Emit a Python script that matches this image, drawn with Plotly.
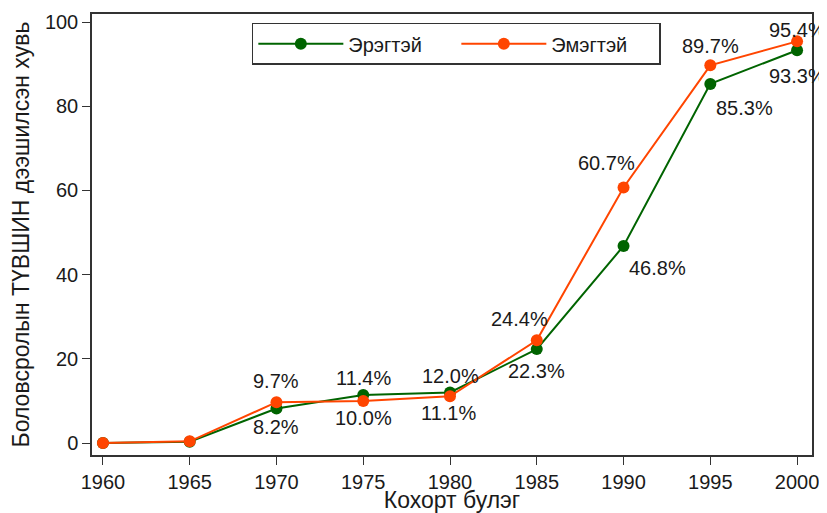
import plotly.graph_objects as go

years = [1960, 1965, 1970, 1975, 1980, 1985, 1990, 1995, 2000]
male = [0.0, 0.3, 8.2, 11.4, 12.0, 22.3, 46.8, 85.3, 93.3]
female = [0.0, 0.4, 9.7, 10.0, 11.1, 24.4, 60.7, 89.7, 95.4]
male_labels = ["", "", "8.2%", "11.4%", "12.0%", "22.3%", "46.8%", "85.3%", "93.3%"]
female_labels = ["", "", "9.7%", "10.0%", "11.1%", "24.4%", "60.7%", "89.7%", "95.4%"]
series_names = ["Эрэгтэй", "Эмэгтэй"]
x_title = "Кохорт булэг"
y_title = "Боловсролын ТҮВШИН дээшилсэн хувь"
y_ticks = [0, 20, 40, 60, 80, 100]

# label offsets (px), style only
male_off = [(0, 0), (0, 0), (0, 19), (0, -17), (0, -16), (0, 22), (34, 22), (34, 24), (0, 26)]
female_off = [(0, 0), (0, 0), (0, -21), (0, 17), (-2, 17), (-17, -21), (-17, -24), (0, -19), (0, -11)]

GREEN = "#006400"
ORANGE = "#FF4500"
FONT = "Liberation Sans, Arial, sans-serif"
TXT = "#1a1a1a"

fig = go.Figure()
fig.add_trace(go.Scatter(x=years, y=male, mode="lines+markers", name=series_names[0],
                         line=dict(color=GREEN, width=2),
                         marker=dict(color=GREEN, size=12)))
fig.add_trace(go.Scatter(x=years, y=female, mode="lines+markers", name=series_names[1],
                         line=dict(color=ORANGE, width=2),
                         marker=dict(color=ORANGE, size=12)))

annots = []
for xs, ys, labs, offs in [(years, male, male_labels, male_off), (years, female, female_labels, female_off)]:
    for xv, yv, lab, (dx, dy) in zip(xs, ys, labs, offs):
        if not lab:
            continue
        annots.append(dict(x=xv, y=yv, text=lab, showarrow=False, xshift=dx, yshift=-dy,
                           font=dict(size=20, color=TXT, family=FONT),
                           xanchor="center", yanchor="middle"))

# page body adds an 8px offset, so the figure is sized to compensate
fig.update_layout(
    width=819, height=505,
    margin=dict(l=84, r=15, t=6, b=58, autoexpand=False),
    paper_bgcolor="white", plot_bgcolor="white",
    font=dict(family=FONT, color=TXT),
    annotations=annots,
    showlegend=True,
    legend=dict(orientation="h", x=0.222, y=0.98, xanchor="left", yanchor="top",
                bordercolor="#333333", borderwidth=1.5, bgcolor="white",
                font=dict(size=20, family=FONT, color=TXT),
                itemwidth=85, entrywidth=103, tracegroupgap=0),
    xaxis=dict(range=[1959.37, 2000.86], tickvals=years, ticks="outside", ticklen=8,
               tickcolor="#333333", showgrid=False, zeroline=False, automargin=False,
               showline=True, linecolor="#333333", linewidth=1.5, mirror=True,
               tickfont=dict(size=20, family=FONT, color=TXT),
               title=dict(text=x_title, font=dict(size=23, family=FONT, color=TXT), standoff=13)),
    yaxis=dict(range=[-2.85, 101.9], tickvals=y_ticks, ticks="outside", ticklen=8,
               tickcolor="#333333", showgrid=False, zeroline=False, automargin=False,
               showline=True, linecolor="#333333", linewidth=1.5, mirror=True,
               tickfont=dict(size=20, family=FONT, color=TXT),
               title=dict(text=y_title, font=dict(size=23, family=FONT, color=TXT), standoff=10)),
)

fig.write_html("out.html")
